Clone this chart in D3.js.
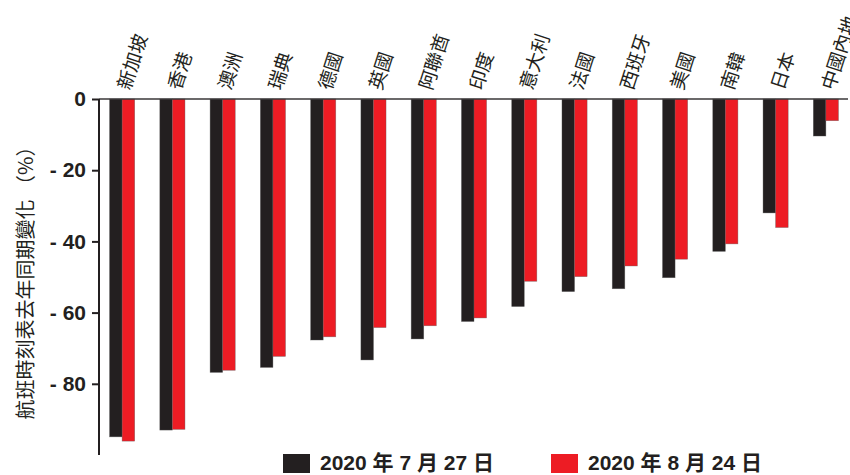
<!DOCTYPE html>
<html>
<head>
<meta charset="utf-8">
<script src="https://cdn.jsdelivr.net/npm/d3@7"></script>
<style>
  body { margin: 0; background: #fff; }
  text { fill: #231f20; }
</style>
</head>
<body>
<div id="chart"></div>
<script>
var categories = ['新加坡', '香港', '澳洲', '瑞典', '德國', '英國', '阿聯酋', '印度',
                  '意大利', '法國', '西班牙', '美國', '南韓', '日本', '中國內地'];
var jul27 = [-94.9, -93.0, -76.8, -75.4, -67.7, -73.3, -67.4, -62.5, -58.3, -54.1, -53.3, -50.2, -42.8, -32.0, -10.4];
var aug24 = [-96.1, -92.8, -76.2, -72.3, -66.8, -64.2, -63.7, -61.5, -51.2, -49.9, -46.9, -45.0, -40.7, -36.1, -6.1];
var seriesNames = ['2020 年 7 月 27 日', '2020 年 8 月 24 日'];
var seriesColors = ['#231f20', '#ed1c24'];
var yTicks = [0, -20, -40, -60, -80];

var width = 850,
    height = 475,
    svg = d3.select('#chart').append('svg')
            .attr('width', width)
            .attr('height', height);

var x = d3.scaleBand()
  .domain(categories)
  .range([99, 849])
  .paddingInner(0.5)
  .paddingOuter(0.21);

var x1 = d3.scaleBand()
  .domain([0, 1])
  .range([0, x.bandwidth()]);

var y = d3.scaleLinear()
  .domain([-100, 0])
  .range([455, 99]);

var rows = categories.map(function(c, i) {
  return { cat: c, vals: [jul27[i], aug24[i]] };
});

// bars
var groups = svg.selectAll('g.cat')
  .data(rows)
  .enter().append('g')
  .attr('class', 'cat')
  .attr('transform', function(d) { return 'translate(' + x(d.cat) + ',0)'; });

groups.selectAll('rect')
  .data(function(d) { return d.vals; })
  .enter().append('rect')
  .attr('x', function(d, i) { return x1(i); })
  .attr('y', y(0))
  .attr('width', x1.bandwidth())
  .attr('height', function(d) { return y(d) - y(0); })
  .attr('fill', function(d, i) { return seriesColors[i]; })
  .attr('stroke', 'rgba(90,90,90,0.6)')
  .attr('stroke-width', 0.6);

// zero line along top
svg.append('line')
  .attr('x1', 99).attr('x2', 848)
  .attr('y1', y(0)).attr('y2', y(0))
  .attr('stroke', '#3a3738')
  .attr('stroke-width', 1.6);

// y axis
var yAxis = d3.axisLeft(y)
  .tickValues(yTicks)
  .tickSize(7)
  .tickPadding(6)
  .tickFormat(function(d) { return d === 0 ? '0' : '- ' + Math.abs(d); });

var ya = svg.append('g')
  .attr('transform', 'translate(99,0)')
  .call(yAxis);

ya.select('.domain')
  .attr('d', 'M0,' + y(0) + 'V' + y(-100))
  .attr('stroke', '#231f20')
  .attr('stroke-width', 2);
ya.selectAll('.tick line').attr('stroke', '#231f20').attr('stroke-width', 2);
ya.selectAll('.tick text')
  .attr('font-family', '"Liberation Sans", Arial, sans-serif')
  .attr('font-weight', 'bold')
  .attr('font-size', 21)
  .attr('fill', '#231f20');

// category labels
svg.selectAll('text.cat-label')
  .data(categories)
  .enter().append('text')
  .attr('class', 'cat-label')
  .attr('transform', function(d) {
    return 'translate(' + (x(d) + x.bandwidth() / 2 + 8) + ',91) rotate(-72)';
  })
  .attr('font-family', '"Noto Sans CJK TC", sans-serif')
  .attr('font-size', 19)
  .text(function(d) { return d; });

// y title
svg.append('text')
  .attr('transform', 'translate(24,278) rotate(-90)')
  .attr('text-anchor', 'middle')
  .attr('dominant-baseline', 'central')
  .attr('font-family', '"Noto Sans CJK TC", sans-serif')
  .attr('font-size', 20)
  .text('航班時刻表去年同期變化 （%）');

// legend
var legendX = [283, 551];
var legend = svg.selectAll('g.legend')
  .data(seriesNames)
  .enter().append('g')
  .attr('class', 'legend')
  .attr('transform', function(d, i) { return 'translate(' + legendX[i] + ',454)'; });

legend.append('rect')
  .attr('width', 27)
  .attr('height', 19)
  .attr('fill', function(d, i) { return seriesColors[i]; });

legend.append('text')
  .attr('x', 37)
  .attr('y', 16)
  .attr('font-family', '"Liberation Sans", "Noto Sans CJK TC", sans-serif')
  .attr('font-weight', 'bold')
  .attr('font-size', 21)
  .text(function(d) { return d; });
</script>
</body>
</html>
